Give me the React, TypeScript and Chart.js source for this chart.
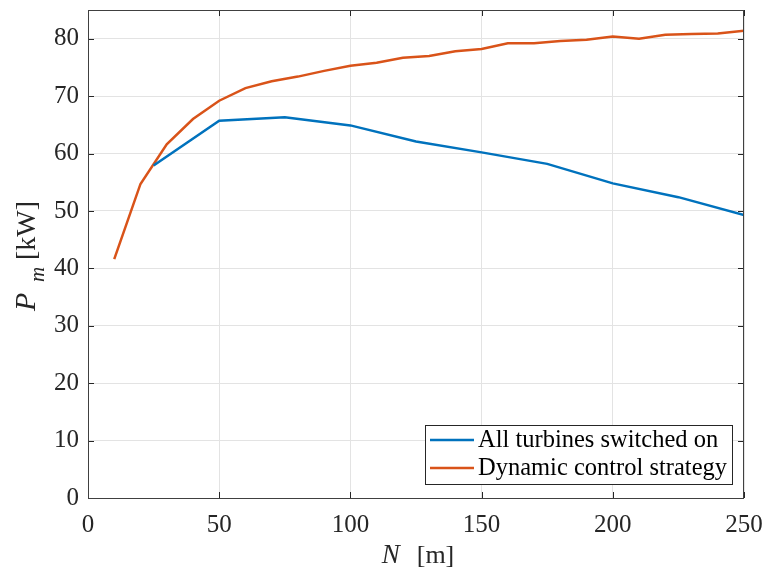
import React, { useEffect, useRef } from 'react';
import { Chart, registerables } from 'chart.js';

Chart.register(...registerables);

// ---- data ----
const spacingDynamic = [10, 20, 30, 40, 50, 60, 70, 80, 90, 100, 110, 120, 130, 140, 150, 160, 170, 180, 190, 200, 210, 220, 230, 240, 250];
const powerDynamic = [41.6, 54.7, 61.6, 66.0, 69.2, 71.4, 72.6, 73.4, 74.4, 75.3, 75.8, 76.7, 77.0, 77.8, 78.2, 79.2, 79.2, 79.6, 79.8, 80.4, 80.0, 80.7, 80.8, 80.9, 81.4];
const spacingAllOn = [25, 50, 75, 100, 125, 150, 175, 200, 225, 250];
const powerAllOn = [57.9, 65.7, 66.3, 64.9, 62.1, 60.2, 58.2, 54.8, 52.4, 49.3];
const xTickValues = [0, 50, 100, 150, 200, 250];
const yTickValues = [0, 10, 20, 30, 40, 50, 60, 70, 80];
const seriesLabels = ['All turbines switched on', 'Dynamic control strategy'];
const seriesColors = ['#0072BD', '#D95319'];
const xTitleParts = ['N', '[m]'];
const yTitleParts = ['P', 'm', '[kW]'];

const SERIF = '"Liberation Serif", "Times New Roman", serif';
const TEXT = '#262626';

const matlabFrame = {
  id: 'matlabFrame',
  afterDraw(chart: any) {
    const { ctx, chartArea: ca } = chart;
    const xs = chart.scales.x;
    const ys = chart.scales.y;
    ctx.save();
    // ticks (inward, all four sides)
    ctx.strokeStyle = '#262626';
    ctx.lineWidth = 1;
    const tl = 6;
    ctx.beginPath();
    xTickValues.forEach((v) => {
      const px = Math.round(xs.getPixelForValue(v)) + 0.5;
      ctx.moveTo(px, ca.bottom);
      ctx.lineTo(px, ca.bottom - tl);
      ctx.moveTo(px, ca.top);
      ctx.lineTo(px, ca.top + tl);
    });
    yTickValues.forEach((v) => {
      const py = Math.round(ys.getPixelForValue(v)) + 0.5;
      ctx.moveTo(ca.left, py);
      ctx.lineTo(ca.left + tl, py);
      ctx.moveTo(ca.right, py);
      ctx.lineTo(ca.right - tl, py);
    });
    ctx.stroke();
    // box
    ctx.strokeStyle = '#404040';
    ctx.strokeRect(Math.round(ca.left) + 0.5, Math.round(ca.top) + 0.5, Math.round(ca.right - ca.left) - 1, Math.round(ca.bottom - ca.top));

    // legend
    const lx1 = ca.right - 319;
    const lx2 = ca.right - 11;
    const ly1 = ca.bottom - 73;
    const ly2 = ca.bottom - 13;
    ctx.fillStyle = '#ffffff';
    ctx.fillRect(lx1, ly1, lx2 - lx1, ly2 - ly1);
    ctx.strokeStyle = '#262626';
    ctx.strokeRect(lx1 + 0.5, ly1 + 0.5, lx2 - lx1 - 1, ly2 - ly1 - 1);
    chart.data.datasets.forEach((ds: any, i: number) => {
      const y = ly1 + 15 + i * 28;
      ctx.strokeStyle = ds.borderColor;
      ctx.lineWidth = 2.5;
      ctx.beginPath();
      ctx.moveTo(lx1 + 5, y);
      ctx.lineTo(lx1 + 49, y);
      ctx.stroke();
      ctx.fillStyle = '#000000';
      ctx.font = `24.5px ${SERIF}`;
      ctx.textAlign = 'left';
      ctx.textBaseline = 'middle';
      ctx.fillText(ds.label, lx1 + 53, y + 1);
    });

    // x title
    ctx.fillStyle = TEXT;
    ctx.textBaseline = 'alphabetic';
    ctx.textAlign = 'left';
    ctx.font = `26px ${SERIF}`;
    const unitW = ctx.measureText(xTitleParts[1]).width;
    const gap = 35;
    const totalX = gap + unitW;
    const cx = (ca.left + ca.right) / 2;
    const startX = cx - totalX / 2 + 2;
    ctx.font = `italic 27px ${SERIF}`;
    ctx.fillText(xTitleParts[0], startX, 563);
    ctx.font = `26px ${SERIF}`;
    ctx.fillText(xTitleParts[1], startX + gap, 563);

    // y title (rotated)
    ctx.save();
    const cy = (ca.top + ca.bottom) / 2 + 2;
    ctx.translate(35, cy);
    ctx.rotate(-Math.PI / 2);
    const x0 = -55;
    ctx.font = `italic 30px ${SERIF}`;
    ctx.fillText(yTitleParts[0], x0, 0);
    ctx.font = `italic 21px ${SERIF}`;
    ctx.fillText(yTitleParts[1], x0 + 29, 9);
    ctx.font = `28px ${SERIF}`;
    ctx.fillText(yTitleParts[2], x0 + 51, 0);
    ctx.restore();

    ctx.restore();
  },
};

const zeroPadding = (scale: any) => {
  scale.paddingTop = 0;
  scale.paddingBottom = 0;
  scale.paddingLeft = 0;
  scale.paddingRight = 0;
};

export default function App() {
  const canvasRef = useRef<HTMLCanvasElement | null>(null);

  useEffect(() => {
    document.body.style.margin = '0';
    const canvas = canvasRef.current;
    if (!canvas) return;
    const chart = new Chart(canvas, {
      type: 'line',
      data: {
        datasets: [
          {
            label: seriesLabels[0],
            data: spacingAllOn.map((x, i) => ({ x, y: powerAllOn[i] })),
            borderColor: seriesColors[0],
            backgroundColor: seriesColors[0],
            borderWidth: 2.5,
            pointRadius: 0,
            tension: 0,
          },
          {
            label: seriesLabels[1],
            data: spacingDynamic.map((x, i) => ({ x, y: powerDynamic[i] })),
            borderColor: seriesColors[1],
            backgroundColor: seriesColors[1],
            borderWidth: 2.5,
            pointRadius: 0,
            tension: 0,
          },
        ],
      },
      options: {
        responsive: false,
        animation: false,
        events: [],
        layout: { padding: { left: 0, right: 24, top: 10, bottom: 0 } },
        plugins: {
          legend: { display: false },
          tooltip: { enabled: false },
        },
        scales: {
          x: {
            type: 'linear',
            min: 0,
            max: 250,
            afterBuildTicks: (scale: any) => {
              scale.ticks = xTickValues.map((v) => ({ value: v }));
            },
            afterFit: (scale: any) => {
              scale.height = 71;
              zeroPadding(scale);
            },
            grid: { color: '#e3e3e3', lineWidth: 1, drawTicks: false },
            border: { display: false },
            ticks: {
              color: TEXT,
              padding: 12,
              maxRotation: 0,
              font: { family: SERIF, size: 25 },
            },
          },
          y: {
            type: 'linear',
            min: 0,
            max: 85,
            afterBuildTicks: (scale: any) => {
              scale.ticks = yTickValues.map((v) => ({ value: v }));
            },
            afterFit: (scale: any) => {
              scale.width = 88;
              zeroPadding(scale);
            },
            grid: { color: '#e3e3e3', lineWidth: 1, drawTicks: false },
            border: { display: false },
            ticks: {
              color: TEXT,
              padding: 9,
              font: { family: SERIF, size: 25 },
            },
          },
        },
      },
      plugins: [matlabFrame],
    });
    return () => chart.destroy();
  }, []);

  return (
    <div style={{ position: 'fixed', left: 0, top: 0, width: 768, height: 569, background: '#ffffff' }}>
      <canvas ref={canvasRef} width={768} height={569} style={{ width: 768, height: 569, display: 'block' }} />
    </div>
  );
}
